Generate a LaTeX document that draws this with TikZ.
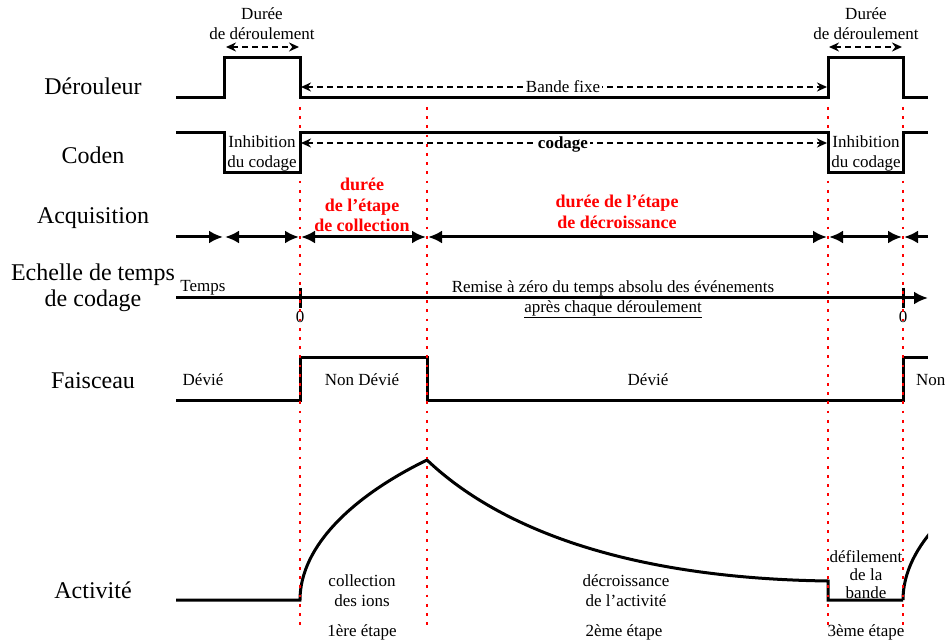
\documentclass[tikz,border=0pt]{standalone}
\usepackage{fontspec}
\setmainfont{Liberation Serif}
\usetikzlibrary{arrows.meta}

\tikzset{
  signal/.style={line width=3pt},
  guide/.style={draw=red, line width=2.8pt, dash pattern=on 2.8pt off 6.4pt},
  span/.style={line width=1.9pt, dash pattern=on 6pt off 4pt,
    {Stealth[length=10pt,width=9pt]}-{Stealth[length=10pt,width=9pt]}},
  acqtip/.tip={Latex[length=14pt,width=13pt]},
  rowname/.style={font=\fontsize{24}{26}\selectfont, align=center},
  note/.style={font=\fontsize{17}{20}\selectfont, align=center, inner sep=1pt},
  stage/.style={note, text=red, font=\fontsize{18}{20.5}\selectfont\bfseries},
}

\begin{document}
\begin{tikzpicture}[x=1pt, y=-1pt]
\useasboundingbox (0,0) rectangle (948,644);

% row names
\node[rowname] (derouleur) at (93,86) {Dérouleur};
\node[rowname] (coden) at (93,155) {Coden};
\node[rowname] (acquisition) at (93,218) {Acquisition};
\node[rowname] (echelle) at (93,288) {Echelle de temps\\de codage};
\node[rowname] (faisceau) at (93,381) {Faisceau};
\node[rowname] (activite) at (93,590) {Activité};

% faisceau
\draw[signal] (176,400) -- (300,400) -- (300,358) -- (427,358) -- (427,400)
    -- (903,400) -- (903,358) -- (928,358);
\node[note] (devie1) at (203,380) {Dévié};
\node[note] (nondevie) at (362,380) {Non Dévié};
\node[note] (devie2) at (648,380) {Dévié};
\node[note, anchor=west] (non) at (915,380) {Non};

% activite
\draw[signal] (176,600) -- (300,600) .. controls (300,545) and (355,495) .. (427,460)
    .. controls (490,520) and (610,578) .. (828,581) -- (828,600) -- (903,600);
\begin{scope}
\clip (0,0) rectangle (928,644);
\draw[signal] (903,600) .. controls (903,545) and (958,495) .. (1030,460);
\end{scope}
\node[note] (collection) at (362,591) {collection\\des ions};
\node[note] (decroissance) at (626,591) {décroissance\\de l’activité};
\node[note, font=\fontsize{17}{18}\selectfont] (defilement) at (866,575) {défilement\\de la\\bande};
\node[note] (etape1) at (362,632) {1ère étape};
\node[note] (etape2) at (624,632) {2ème étape};
\node[note] (etape3) at (866,632) {3ème étape};

% acquisition
\draw[signal, -{acqtip}] (176,237) -- (223,237);
\draw[signal, {acqtip}-{acqtip}] (225,237) -- (299,237);
\draw[signal, {acqtip}-{acqtip}] (301,237) -- (426,237);
\draw[signal, {acqtip}-{acqtip}] (428,237) -- (827,237);
\draw[signal, {acqtip}-{acqtip}] (829,237) -- (902,237);
\draw[signal, {acqtip}-] (904,237) -- (928,237);
\node[stage] (collecstep) at (362,205) {durée\\de l’étape\\de collection};
\node[stage] (decrstep) at (617,212) {durée de l’étape\\de décroissance};

% echelle de temps
\draw[signal, -{acqtip}] (176,298) -- (928,298);
\draw[signal] (300,288) -- (300,308);
\draw[signal] (903,288) -- (903,308);
\node[note] (temps) at (203,288) {Temps};
\node[note] (zero1) at (300,317) {0};
\node[note] (zero2) at (903,317) {0};
\node[note] (remise) at (613,299) {\underline{Remise à zéro du temps absolu des événements}\\
    \underline{après chaque déroulement}};

% reperes
\foreach \gx in {300,427,828,903}
  \draw[guide] (\gx,107) -- (\gx,626);

% derouleur
\draw[span] (301,87) -- (827,87);
\node[note, fill=white, inner sep=2pt] (bande) at (563,87) {Bande fixe};
\draw[signal] (176,98) -- (224,98) -- (224,58) -- (300,58) -- (300,98)
    -- (828,98) -- (828,58) -- (903,58) -- (903,98) -- (928,98);
\draw[span] (226,47) -- (299,47);
\draw[span] (829,47) -- (902,47);
\node[note] (duree1) at (262,24) {Durée\\de déroulement};
\node[note] (duree2) at (866,24) {Durée\\de déroulement};

% coden
\draw[span] (301,143) -- (827,143);
\node[note, fill=white, inner sep=2pt, font=\fontsize{17}{20}\selectfont\bfseries] (codage) at (563,144) {codage};
\draw[signal] (176,133) -- (224,133) -- (224,173) -- (300,173) -- (300,133)
    -- (828,133) -- (828,173) -- (903,173) -- (903,133) -- (928,133);
\node[note, inner sep=0pt] (inhib1) at (262,153) {Inhibition\\du codage};
\node[note, inner sep=0pt] (inhib2) at (866,153) {Inhibition\\du codage};
\end{tikzpicture}
\end{document}
